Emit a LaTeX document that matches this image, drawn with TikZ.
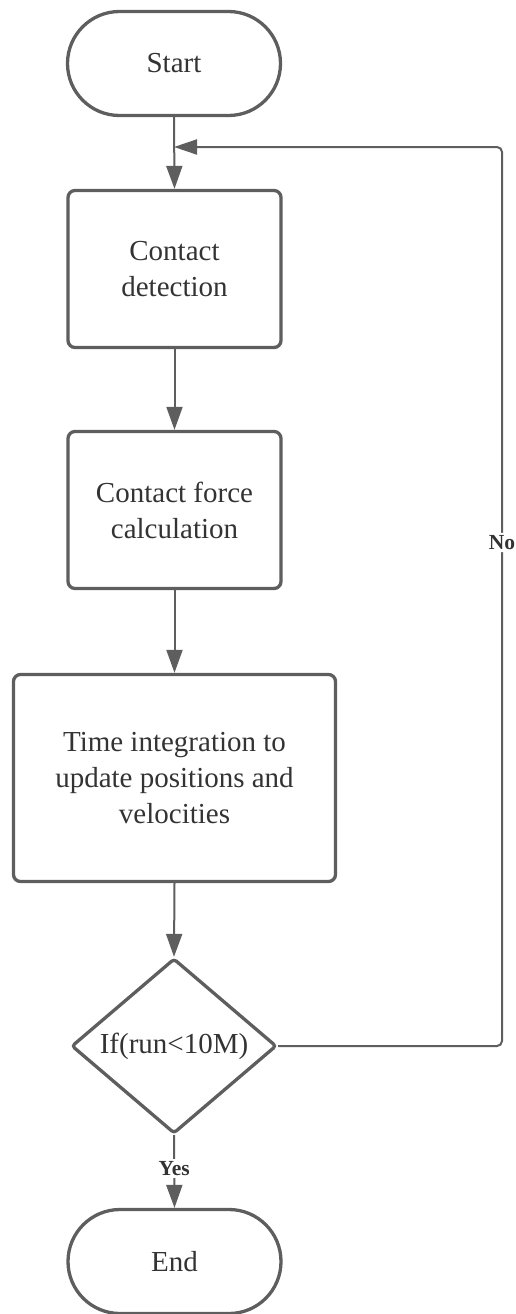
\documentclass[tikz,border=0pt]{standalone}
\usepackage{fontspec}
\setmainfont{Liberation Serif}
\usetikzlibrary{shapes.geometric,arrows.meta}
\definecolor{edgec}{HTML}{5E5E5E}
\definecolor{txtc}{HTML}{333333}
\begin{document}
\begin{tikzpicture}[x=1pt,y=-1pt,
  base/.style={draw=edgec,line width=3.3pt,text=txtc,font=\fontsize{29}{36}\selectfont,align=center,inner sep=0pt},
  term/.style={base,rectangle,rounded corners=52pt,minimum width=213pt,minimum height=104pt},
  proc/.style={base,rectangle,rounded corners=7pt},
  dec/.style={base,diamond,minimum width=205pt,minimum height=153pt,rounded corners=3pt},
  flow/.style={draw=edgec,line width=2pt,-{Triangle[length=23pt,width=16pt]}},
  lbl/.style={fill=white,text=txtc,font=\bfseries\fontsize{21.5}{25}\selectfont,inner sep=2.5pt}]
\useasboundingbox (0,0) rectangle (516,1314);
\node[term] (start) at (174,63.5) {Start};
\node[proc,minimum width=213pt,minimum height=157pt] (cd) at (174.5,269) {Contact\\detection};
\node[proc,minimum width=213pt,minimum height=157pt] (cf) at (174.5,510) {Contact force\\calculation};
\node[proc,minimum width=322pt,minimum height=207pt] (ti) at (174.5,778) {Time integration to\\update positions and\\velocities};
\node[dec] (dec) at (174,1046) {If(run<10M)};
\node[term] (end) at (174.5,1261.5) {End};
\coordinate (j) at (174,147);
\coordinate (c1) at (502,1046);
\coordinate (c2) at (502,147);
\draw[flow] (start.south) -- (cd.north);
\draw[flow] (cd.south) -- (cf.north);
\draw[flow] (cf.south) -- (ti.north);
\draw[flow] (ti.south) -- (dec.north);
\draw[flow] (dec.south) -- node[lbl,pos=0.46] {Yes} (end.north);
\draw[flow,-{Triangle[length=23pt,width=15pt]},rounded corners=5pt] (dec.east) -- (c1) -- node[lbl,pos=0.56] {No} (c2) -- (j);
\end{tikzpicture}
\end{document}
